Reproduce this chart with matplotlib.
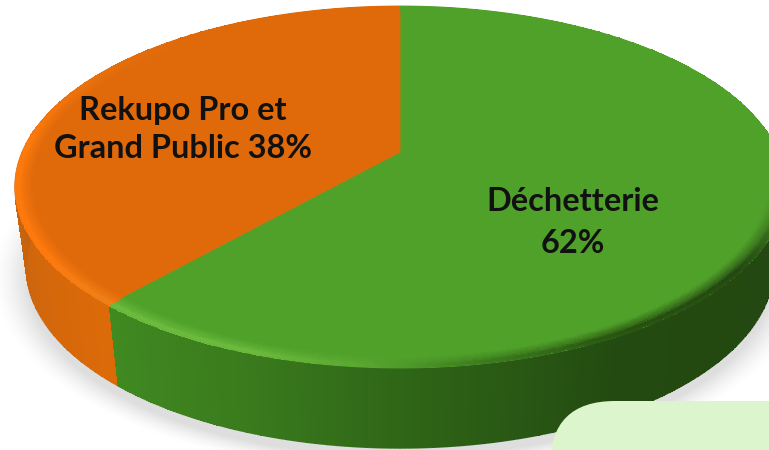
import numpy as np
import matplotlib

matplotlib.use("Agg")
import matplotlib.pyplot as plt
from matplotlib.colors import to_rgb
from matplotlib.collections import LineCollection
from matplotlib.patches import FancyBboxPatch, Polygon

labels = ["Déchetterie\n62%", "Rekupo Pro et\nGrand Public 38%"]
shares = [62, 38]
top_colors = ["#50a12a", "#e06a0a"]

W, H = 769, 450
# perspective pie: circle -> image, apex sits above the middle of the ellipse
APEX_X, APEX_Y = 400, 152
RX = 378
PERSP = 0.1934
SLOPE = -144.84
DEPTH = 80
BOTTOM_SCALE = 0.97
WARP = 2.6


def project(theta, r=1.0, dy=0.0, scale=1.0):
    """theta in degrees clockwise from the top of the pie."""
    t = np.radians(theta + WARP * np.sin(np.radians(theta)))
    u, v = r * np.sin(t), r * np.cos(t)
    d = PERSP * v + 1
    return APEX_X + scale * RX * u / d, (SLOPE * v + APEX_Y) / d + dy


def ramp(theta, stops):
    th = [s[0] for s in stops]
    cols = np.array([to_rgb(s[1]) for s in stops])
    return np.stack([np.interp(theta, th, cols[:, i]) for i in range(3)], axis=-1)


split = shares[0] / sum(shares) * 360

wall_green = [(60, "#224510"), (150, "#234a11"), (180, "#2f6617"), (200, "#3a7a1d"), (split, "#408a21")]
wall_orange = [(split, "#dc6a08"), (250, "#cf660d"), (285, "#bd5f10"), (320, "#bd5f10")]
rim_green = [(0, "#50a12a"), (95, "#50a12a"), (125, "#224510"), (150, "#26500f"), (170, "#3c7d1e"),
             (185, "#5aa830"), (200, "#6cbb3e"), (split, "#6cbb3e")]
rim_orange = [(split, "#f08018"), (240, "#ff7a0d"), (275, "#ff7a0d"), (300, "#e8700c"), (320, "#e06a0a"),
              (360, "#e06a0a")]


def wall_rgb(theta):
    return np.where(theta[..., None] < split, ramp(theta, wall_green), ramp(theta, wall_orange))


fig = plt.figure(figsize=(W / 100, H / 100), dpi=100)
ax = fig.add_axes([0, 0, 1, 1])
ax.set_xlim(0, W)
ax.set_ylim(H, 0)
ax.axis("off")

# soft shadow under the disc
gx, gy = np.meshgrid(np.arange(W) + 0.5, np.arange(H) + 0.5)
dist = np.hypot((gx - 400) / 388, (gy - 278) / 186)
fade = np.clip((1.05 - dist) / 0.09, 0, 1)
shadow = np.ones((H, W, 4))
shadow[..., :3] = 0.82
shadow[..., 3] = fade ** 1.5 * 0.7
ax.imshow(shadow, extent=(0, W, H, 0), aspect="auto", zorder=1, interpolation="bilinear")
ax.set_xlim(0, W)
ax.set_ylim(H, 0)

# side wall
th_edges = np.linspace(70, 300, 461)
th_mid = (th_edges[:-1] + th_edges[1:]) / 2
x0, y0 = project(th_edges)
x1, y1 = project(th_edges, dy=DEPTH, scale=BOTTOM_SCALE)
xs = np.stack([x0, x1])
ys = np.stack([y0, y1])
rgb = wall_rgb(th_mid[None, :])
ax.pcolormesh(xs, ys, rgb, zorder=2, antialiased=False, edgecolors="none")
pts = np.column_stack([x1, y1]).reshape(-1, 1, 2)
segs = np.concatenate([pts[:-1], pts[1:]], axis=1)
ax.add_collection(LineCollection(segs, colors=rgb[0], linewidths=1.0, zorder=2.5))

# top face slices
start = 0
for share, color in zip(shares, top_colors):
    end = start + share / sum(shares) * 360
    th = np.linspace(start, end, 300)
    ax_pts = np.column_stack(project(th))
    poly = np.vstack([[APEX_X, APEX_Y], ax_pts])
    ax.add_patch(Polygon(poly, closed=True, facecolor=color, edgecolor=color, linewidth=0.6, zorder=3))
    start = end

# bevel along the rim of the top face
rad_edges = np.linspace(0.955, 1.0, 13)
rad_mid = (rad_edges[:-1] + rad_edges[1:]) / 2
th_edges = np.linspace(0, 360, 721)
th_mid = (th_edges[:-1] + th_edges[1:]) / 2
tt, rr = np.meshgrid(th_edges, rad_edges)
bx, by = project(tt, rr)
base = np.where((th_mid < split)[:, None], np.array(to_rgb(top_colors[0])), np.array(to_rgb(top_colors[1])))
rim = np.where((th_mid < split)[:, None], ramp(th_mid, rim_green), ramp(th_mid, rim_orange))
weight = np.interp(rad_mid, [0.955, 0.98, 0.99, 1.0], [0, 0.6, 1, 0.9])[:, None, None]
bevel = base[None, :, :] * (1 - weight) + rim[None, :, :] * weight
ax.pcolormesh(bx, by, bevel, zorder=4, antialiased=False, edgecolors="none")

# pale box cut off by the corner of the picture
ax.add_patch(FancyBboxPatch((615, 466), 300, 100, boxstyle="round,pad=65,rounding_size=65",
                            facecolor="#ddf5cc", edgecolor="none", zorder=5))

ax.text(573, 222.5, labels[0], ha="center", va="center", fontsize=23.4, fontweight="bold",
        family="Lato", color="#111111", linespacing=1.52, zorder=6)
ax.text(183, 129.5, labels[1], ha="center", va="center", fontsize=23.4, fontweight="bold",
        family="Lato", color="#111111", linespacing=1.41, zorder=6)

fig.savefig("out.png", dpi=100)
